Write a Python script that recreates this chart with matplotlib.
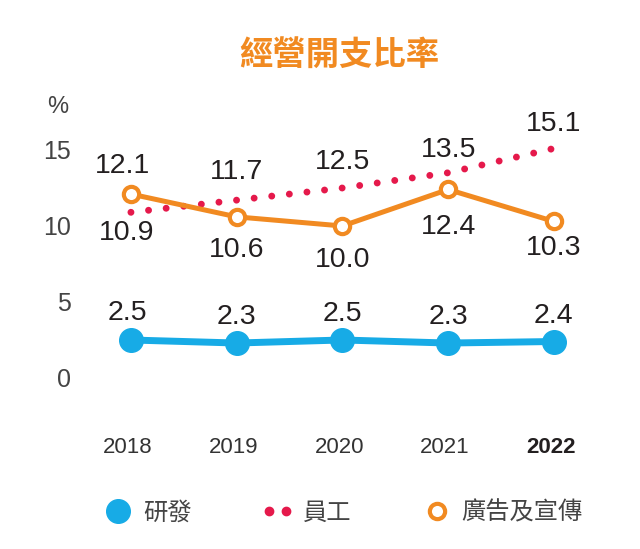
import matplotlib
matplotlib.use("Agg")
import matplotlib.pyplot as plt
from matplotlib.lines import Line2D
from matplotlib.legend_handler import HandlerLine2D

plt.rcParams['font.family'] = ['Liberation Sans', 'Noto Sans CJK TC', 'DejaVu Sans']

years = ["2018", "2019", "2020", "2021", "2022"]
rnd = [2.5, 2.3, 2.5, 2.3, 2.4]
staff = [10.9, 11.7, 12.5, 13.5, 15.1]
ads = [12.1, 10.6, 10.0, 12.4, 10.3]
yticks = [0, 5, 10, 15]
names = ["研發", "員工", "廣告及宣傳"]
title = "經營開支比率"

blue = "#17ABE6"
red = "#E5194B"
orange = "#F18A21"
txt = "#231F20"
grey = "#444444"

fig = plt.figure(figsize=(6.4, 5.49), dpi=100)
ax = fig.add_axes([0.122, 0.2838, 0.826, 0.4984])
x = list(range(len(years)))

ax.plot(x, rnd, color=blue, lw=5, marker="o", ms=17, solid_capstyle="round", zorder=3)
ax.plot(x, staff, color=red, lw=5, linestyle=(0, (0.001, 2.55)),
        dash_capstyle="round", zorder=2)
ax.plot(x, ads, color=orange, lw=3.6, marker="o", ms=11, mfc="white",
        mec=orange, mew=3, zorder=4)

# label offsets in pixels (dx, dy), positive dy = up
rnd_off = [(-4, 27), (0, 26), (0, 26), (0, 26), (0, 26)]
staff_off = [(-4, -21), (0, 28), (0, 26), (0, 23), (0, 24)]
ads_off = [(-8, 28), (0, -33), (0, -34), (0, -38), (0, -27)]

for vals, offs in [(rnd, rnd_off), (staff, staff_off), (ads, ads_off)]:
    for xi, v, (dx, dy) in zip(x, vals, offs):
        ax.annotate(f"{v:.1f}", (xi, v), xytext=(dx * 0.72, dy * 0.72),
                    textcoords="offset points", ha="center", va="center",
                    fontsize=20.5, color=txt, annotation_clip=False, zorder=5)

ax.set_xlim(-0.5, 4.5)
ax.set_ylim(-1, 17)
ax.set_yticks(yticks)
ax.set_yticklabels([str(t) for t in yticks], fontsize=18, color=grey)
ax.tick_params(axis="y", length=0, pad=5)
ax.set_xticks([])
for s in ax.spines.values():
    s.set_visible(False)

ax.text(-0.69, 17.8, "%", fontsize=17, color=grey, ha="center", va="center",
        clip_on=False)

for xi, yr in zip(x, years):
    ax.text(xi - 0.03, -4.55, yr, ha="center", va="center", fontsize=16,
            color=txt if yr == "2022" else "#333333",
            fontweight="bold" if yr == "2022" else "normal", clip_on=False)

fig.text(0.53, 0.898, title, ha="center", va="center", fontsize=24,
         fontweight="bold", color=orange)

handles = [
    Line2D([], [], color=blue, marker="o", ms=17, lw=0),
    Line2D([], [], color=red, marker="o", ms=6, lw=0),
    Line2D([], [], color=orange, marker="o", ms=11, mfc="white", mec=orange,
           mew=3, lw=0),
]
leg = fig.legend(handles, names, loc="center", bbox_to_anchor=(0.535, 0.066),
                 ncol=3, frameon=False, fontsize=17.5, handlelength=1.3,
                 handletextpad=0.35, columnspacing=2.9,
                 handler_map={handles[1]: HandlerLine2D(numpoints=2)})
for t in leg.get_texts():
    t.set_color(grey)

fig.savefig("out.png", dpi=100, facecolor="white")
